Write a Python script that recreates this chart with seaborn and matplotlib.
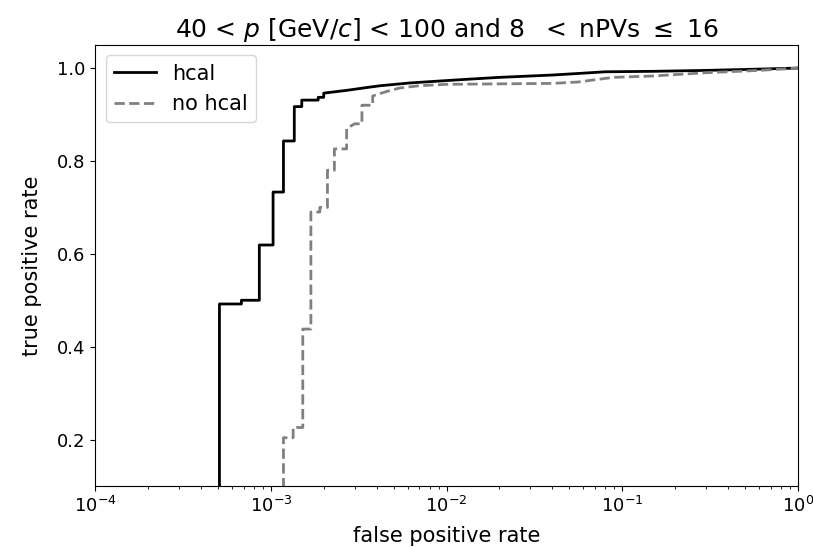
import matplotlib
matplotlib.use("Agg")
import matplotlib.pyplot as plt
import seaborn as sns
import pandas as pd

# ROC curve points (false positive rate, true positive rate)
fpr_hcal = [5.1e-4, 5.1e-4, 6.8e-4, 6.8e-4, 8.6e-4, 8.6e-4, 1.03e-3, 1.03e-3,
            1.18e-3, 1.18e-3, 1.36e-3, 1.36e-3, 1.5e-3, 1.5e-3, 1.86e-3, 1.86e-3,
            2.0e-3, 2.0e-3, 2.7e-3, 3.5e-3, 4.2e-3, 6.2e-3, 1.2e-2, 2.0e-2,
            4.0e-2, 6.6e-2, 8.0e-2, 0.15, 0.3, 0.5, 1.0]
tpr_hcal = [0.0, 0.492, 0.492, 0.50, 0.50, 0.619, 0.619, 0.733,
            0.733, 0.843, 0.843, 0.917, 0.917, 0.931, 0.931, 0.937,
            0.937, 0.946, 0.952, 0.958, 0.962, 0.968, 0.975, 0.980,
            0.985, 0.990, 0.992, 0.993, 0.995, 0.997, 1.0]

fpr_nohcal = [1.18e-3, 1.18e-3, 1.34e-3, 1.34e-3, 1.52e-3, 1.52e-3, 1.69e-3, 1.69e-3,
              1.9e-3, 1.9e-3, 2.1e-3, 2.1e-3, 2.3e-3, 2.3e-3, 2.7e-3, 2.7e-3,
              3.0e-3, 3.3e-3, 3.3e-3, 3.8e-3, 3.8e-3, 4.6e-3, 5.4e-3, 7.0e-3,
              1.0e-2, 2.0e-2, 4.0e-2, 5.6e-2, 8.9e-2, 0.15, 0.3, 0.6, 1.0]
tpr_nohcal = [0.0, 0.204, 0.204, 0.226, 0.226, 0.438, 0.438, 0.69,
              0.69, 0.70, 0.70, 0.78, 0.78, 0.826, 0.826, 0.87,
              0.88, 0.88, 0.92, 0.92, 0.94, 0.95, 0.957, 0.962,
              0.965, 0.966, 0.967, 0.970, 0.980, 0.983, 0.990, 0.995, 1.0]

labels = ["hcal", "no hcal"]

fig = plt.figure(figsize=(8.13, 5.47), dpi=100)
ax = fig.add_axes([0.117, 0.1115, 0.8645, 0.8065])

sns.lineplot(x=fpr_hcal, y=tpr_hcal, sort=False, estimator=None, ax=ax,
             color="black", lw=2, label=labels[0])
sns.lineplot(x=fpr_nohcal, y=tpr_nohcal, sort=False, estimator=None, ax=ax,
             color="gray", lw=2, linestyle="--", label=labels[1])

ax.set_xscale("log")
ax.set_xlim(1e-4, 1.0)
ax.set_ylim(0.1, 1.05)
ax.set_yticks([0.2, 0.4, 0.6, 0.8, 1.0])
ax.tick_params(labelsize=13)
ax.set_xlabel("false positive rate", fontsize=15, labelpad=7)
ax.set_ylabel("true positive rate", fontsize=15, labelpad=10.5)
ax.set_title(r"40 < $p$ [GeV/$c$] < 100 and 8  $<$ nPVs $\leq$ 16", fontsize=18)
ax.legend(loc="upper left", fontsize=15)

fig.savefig("out.png", dpi=100)
